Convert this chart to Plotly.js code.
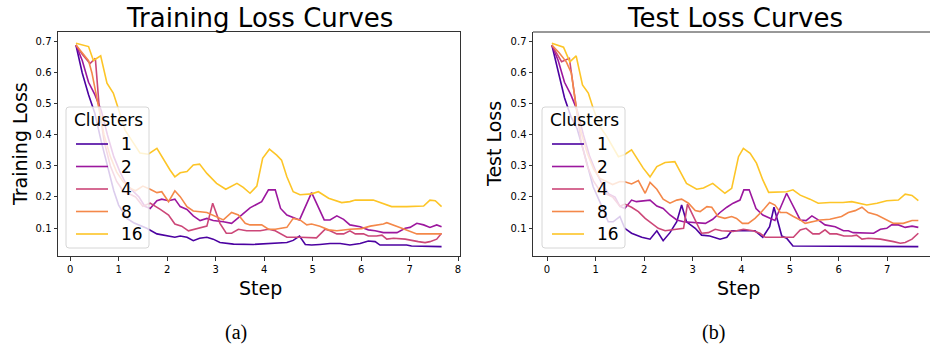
<!DOCTYPE html>
<html><head><meta charset="utf-8">
<script src="https://cdn.plot.ly/plotly-3.0.1.min.js"></script>
<style>html,body{margin:0;padding:0;background:#fff}#plot{width:930px;height:349px}</style>
</head><body><div id="plot"></div>
<script>
// ---- data ----
const clusterNames = ["1", "2", "4", "8", "16"];
const clusterColors = ["#4c02a1", "#9c179e", "#cc4778", "#f48849", "#fdc527"];
const xTicks = [0, 1, 2, 3, 4, 5, 6, 7, 8];
const yTicks = [0.1, 0.2, 0.3, 0.4, 0.5, 0.6, 0.7];

// Training loss
const train1X = [0.12,0.25,0.38,0.51,0.64,0.77,0.9,1.0,1.17,1.31,1.45,1.58,1.79,1.92,2.06,2.16,2.27,2.41,2.54,2.67,2.82,2.95,3.09,3.37,3.78,4.19,4.47,4.6,4.73,4.85,4.98,5.15,5.36,5.57,5.77,5.98,6.15,6.29,6.39,6.94,7.04,7.66];
const train1Y = [0.69,0.6,0.53,0.47,0.38,0.3,0.22,0.174,0.131,0.117,0.108,0.099,0.081,0.077,0.074,0.07,0.074,0.07,0.059,0.067,0.07,0.064,0.053,0.048,0.047,0.05,0.053,0.06,0.074,0.047,0.045,0.047,0.05,0.05,0.045,0.05,0.058,0.056,0.045,0.045,0.042,0.04];
const train2X = [0.12,0.25,0.38,0.51,0.64,0.77,0.9,1.03,1.16,1.29,1.42,1.54,1.65,1.79,1.89,2.03,2.16,2.27,2.41,2.54,2.68,2.82,2.95,3.16,3.33,3.54,3.71,3.95,4.09,4.23,4.34,4.47,4.6,4.73,4.98,5.1,5.24,5.36,5.5,5.64,5.77,5.98,6.15,6.29,6.46,6.74,6.91,7.01,7.15,7.29,7.42,7.56,7.66];
const train2Y = [0.69,0.64,0.57,0.53,0.48,0.4,0.33,0.28,0.24,0.22,0.2,0.17,0.163,0.188,0.193,0.188,0.193,0.169,0.16,0.139,0.124,0.131,0.124,0.12,0.115,0.142,0.165,0.185,0.223,0.223,0.163,0.142,0.133,0.126,0.214,0.174,0.126,0.126,0.139,0.128,0.11,0.104,0.094,0.091,0.085,0.085,0.099,0.102,0.115,0.11,0.102,0.11,0.104];
const train4X = [0.12,0.25,0.41,0.52,0.6,0.7,0.83,0.96,1.09,1.22,1.35,1.5,1.65,1.86,2.03,2.16,2.3,2.44,2.58,2.71,2.82,2.94,3.09,3.22,3.33,3.47,3.64,3.92,4.09,4.23,4.47,4.74,5.08,5.26,5.36,5.5,5.64,5.77,5.88,6.05,6.15,6.32,6.43,6.53,6.67,6.91,7.04,7.18,7.32,7.42,7.56,7.66];
const train4Y = [0.69,0.66,0.63,0.647,0.49,0.38,0.3,0.25,0.22,0.21,0.2,0.17,0.18,0.16,0.142,0.113,0.106,0.091,0.096,0.102,0.106,0.18,0.115,0.083,0.083,0.096,0.091,0.091,0.096,0.091,0.07,0.07,0.068,0.096,0.091,0.081,0.081,0.091,0.081,0.081,0.074,0.074,0.077,0.064,0.067,0.064,0.059,0.056,0.053,0.056,0.064,0.083];
const train8X = [0.12,0.27,0.38,0.45,0.58,0.7,0.83,0.96,1.09,1.22,1.35,1.5,1.65,1.79,1.89,2.03,2.16,2.27,2.41,2.54,2.82,2.99,3.16,3.33,3.47,3.61,3.71,3.95,4.09,4.23,4.47,4.6,4.74,4.88,4.98,5.15,5.33,5.5,5.77,6.01,6.19,6.46,6.53,6.8,6.98,7.15,7.66];
const train8Y = [0.69,0.663,0.64,0.6,0.49,0.4,0.33,0.28,0.25,0.23,0.22,0.235,0.225,0.214,0.217,0.185,0.22,0.201,0.169,0.155,0.15,0.139,0.126,0.15,0.142,0.115,0.11,0.11,0.096,0.096,0.102,0.131,0.126,0.11,0.113,0.106,0.094,0.091,0.096,0.098,0.106,0.113,0.117,0.102,0.091,0.081,0.081];
const train16X = [0.12,0.38,0.48,0.63,0.76,0.89,0.99,1.13,1.28,1.44,1.61,1.79,2.06,2.16,2.27,2.41,2.54,2.67,2.82,3.02,3.21,3.44,3.57,3.71,3.85,3.97,4.11,4.26,4.36,4.47,4.6,4.74,4.98,5.12,5.33,5.6,5.77,5.88,6.25,6.46,6.63,6.94,7.29,7.42,7.53,7.66];
const train16Y = [0.696,0.685,0.64,0.655,0.567,0.535,0.487,0.416,0.38,0.342,0.338,0.357,0.287,0.265,0.278,0.282,0.303,0.306,0.276,0.244,0.225,0.244,0.231,0.212,0.235,0.325,0.354,0.335,0.319,0.265,0.217,0.207,0.21,0.217,0.196,0.182,0.185,0.19,0.19,0.177,0.169,0.169,0.171,0.19,0.188,0.169];

// Test loss
const test1X = [0.1,0.23,0.36,0.49,0.62,0.75,0.95,1.13,1.26,1.36,1.5,1.6,1.74,1.95,2.12,2.26,2.39,2.53,2.67,2.77,2.87,3.05,3.18,3.35,3.56,3.7,3.8,4.28,4.44,4.58,4.67,4.83,4.93,5.06,5.6,6.2,6.8,7.3,7.64];
const test1Y = [0.69,0.6,0.52,0.46,0.42,0.35,0.233,0.169,0.12,0.12,0.137,0.099,0.083,0.07,0.064,0.091,0.059,0.085,0.12,0.174,0.12,0.099,0.077,0.074,0.064,0.07,0.091,0.091,0.07,0.104,0.167,0.074,0.067,0.042,0.042,0.041,0.041,0.04,0.04];
const test2X = [0.1,0.23,0.36,0.49,0.62,0.75,0.88,1.01,1.14,1.27,1.4,1.5,1.6,1.74,1.84,1.98,2.12,2.26,2.39,2.53,2.67,2.81,3.01,3.15,3.26,3.41,3.56,3.7,3.83,3.97,4.05,4.16,4.3,4.44,4.58,4.69,4.93,5.07,5.21,5.33,5.45,5.58,5.72,5.93,6.1,6.2,6.3,6.72,6.86,6.99,7.09,7.23,7.37,7.51,7.64];
const test2Y = [0.69,0.64,0.57,0.53,0.48,0.4,0.33,0.28,0.24,0.21,0.2,0.17,0.163,0.19,0.185,0.188,0.19,0.171,0.163,0.142,0.126,0.12,0.117,0.117,0.115,0.128,0.15,0.167,0.18,0.19,0.223,0.223,0.163,0.142,0.131,0.124,0.212,0.169,0.126,0.124,0.139,0.126,0.11,0.104,0.091,0.091,0.085,0.083,0.096,0.099,0.11,0.11,0.102,0.106,0.102];
const test4X = [0.1,0.3,0.46,0.6,0.7,0.83,0.96,1.09,1.22,1.35,1.5,1.6,1.74,1.88,2.02,2.15,2.29,2.43,2.57,2.7,2.81,2.89,3.18,3.32,3.46,3.59,3.83,4.04,4.24,4.38,4.49,4.69,4.93,5.07,5.21,5.33,5.47,5.6,5.72,5.82,5.96,6.11,6.27,6.37,6.48,6.61,6.86,6.99,7.13,7.27,7.37,7.51,7.64];
const test4Y = [0.69,0.636,0.647,0.49,0.38,0.3,0.25,0.22,0.21,0.2,0.17,0.177,0.167,0.153,0.131,0.115,0.099,0.091,0.094,0.096,0.099,0.177,0.083,0.085,0.096,0.091,0.089,0.096,0.091,0.083,0.07,0.07,0.07,0.07,0.094,0.099,0.081,0.081,0.094,0.081,0.081,0.074,0.074,0.077,0.064,0.067,0.064,0.059,0.056,0.051,0.053,0.064,0.083];
const test8X = [0.1,0.25,0.4,0.5,0.6,0.7,0.83,0.96,1.09,1.22,1.35,1.5,1.6,1.74,1.88,2.02,2.12,2.26,2.39,2.53,2.67,2.77,2.91,3.05,3.15,3.29,3.39,3.52,3.66,3.8,3.9,4.02,4.14,4.28,4.42,4.58,4.69,4.8,4.93,5.07,5.21,5.31,5.45,5.62,5.82,6.06,6.2,6.34,6.48,6.61,6.79,6.96,7.13,7.33,7.51,7.64];
const test8Y = [0.69,0.665,0.635,0.6,0.49,0.41,0.34,0.29,0.26,0.25,0.24,0.25,0.249,0.242,0.253,0.212,0.247,0.225,0.193,0.18,0.19,0.193,0.18,0.156,0.153,0.169,0.167,0.137,0.131,0.137,0.131,0.115,0.115,0.131,0.153,0.182,0.174,0.15,0.15,0.137,0.126,0.115,0.12,0.126,0.128,0.137,0.15,0.156,0.167,0.15,0.142,0.128,0.115,0.115,0.124,0.124];
const test16X = [0.1,0.34,0.47,0.6,0.73,0.85,0.95,1.09,1.23,1.47,1.6,1.74,1.98,2.12,2.26,2.43,2.63,2.87,3.08,3.22,3.41,3.66,3.8,3.94,4.04,4.18,4.31,4.44,4.56,4.77,4.93,5.06,5.21,5.41,5.58,5.82,6.09,6.27,6.58,6.79,6.99,7.23,7.37,7.51,7.64];
const test16Y = [0.696,0.683,0.636,0.655,0.561,0.535,0.486,0.427,0.395,0.33,0.337,0.352,0.293,0.265,0.298,0.311,0.314,0.244,0.225,0.229,0.244,0.212,0.228,0.33,0.357,0.341,0.309,0.255,0.215,0.215,0.217,0.223,0.206,0.193,0.18,0.182,0.182,0.185,0.174,0.18,0.188,0.19,0.209,0.205,0.188];

const trainSeries = [[train1X,train1Y],[train2X,train2Y],[train4X,train4Y],[train8X,train8Y],[train16X,train16Y]];
const testSeries = [[test1X,test1Y],[test2X,test2Y],[test4X,test4Y],[test8X,test8Y],[test16X,test16Y]];

// ---- build ----
const W = 930, H = 349;
const px = v => v / W, py = v => 1 - v / H;
const traces = [];
trainSeries.forEach((s, i) => traces.push({
  x: s[0], y: s[1], type: 'scatter', mode: 'lines', name: clusterNames[i], showlegend: false,
  line: {color: clusterColors[i], width: 1.6}, xaxis: 'x', yaxis: 'y'
}));
testSeries.forEach((s, i) => traces.push({
  x: s[0], y: s[1], type: 'scatter', mode: 'lines', name: clusterNames[i], showlegend: false,
  line: {color: clusterColors[i], width: 1.6}, xaxis: 'x2', yaxis: 'y2'
}));

const yTop = py(32), yBot = py(256);
const tickFont = {family: 'DejaVu Sans', size: 10, color: '#000'};
const axCommon = {
  showgrid: false, zeroline: false, showline: true, linecolor: '#333', linewidth: 1,
  ticks: 'outside', ticklen: 3.5, tickwidth: 1, tickcolor: '#333', tickfont: tickFont
};
const ann = (text, x, y, size, extra) => Object.assign({
  text: text, x: px(x), y: py(y), xref: 'paper', yref: 'paper', showarrow: false,
  xanchor: 'center', yanchor: 'middle',
  font: {family: 'DejaVu Sans', size: size, color: '#000'}
}, extra || {});

const shapes = [{type: 'line', xref: 'paper', yref: 'paper', x0: px(533), x1: 1, y0: yTop, y1: yTop, line: {color: '#333', width: 1}}];
const annotations = [
  ann('Training Loss Curves', 259, 18, 26),
  ann('Test Loss Curves', 735, 18, 26),
  ann('Training Loss', 20, 144, 19, {textangle: -90}),
  ann('Test Loss', 494, 144, 19, {textangle: -90}),
  ann('Step', 260, 288, 19),
  ann('Step', 738, 288, 19),
  ann('(a)', 236, 332, 20, {font: {family: 'Liberation Serif', size: 20, color: '#000'}}),
  ann('(b)', 713, 332, 20, {font: {family: 'Liberation Serif', size: 20, color: '#000'}})
];

// legend box (matplotlib-style, semi-transparent, rounded)
function addLegend(bx) {
  const x0 = bx, x1 = bx + 83, y0 = 107, y1 = 248, r = 3;
  const P = (x, y) => px(x) + ',' + py(y);
  const path = 'M' + P(x0 + r, y0) + ' L' + P(x1 - r, y0) + ' Q' + P(x1, y0) + ' ' + P(x1, y0 + r) +
    ' L' + P(x1, y1 - r) + ' Q' + P(x1, y1) + ' ' + P(x1 - r, y1) + ' L' + P(x0 + r, y1) +
    ' Q' + P(x0, y1) + ' ' + P(x0, y1 - r) + ' L' + P(x0, y0 + r) + ' Q' + P(x0, y0) + ' ' + P(x0 + r, y0) + ' Z';
  shapes.push({type: 'path', xref: 'paper', yref: 'paper', path: path, layer: 'above',
    fillcolor: 'rgba(255,255,255,0.8)', line: {color: '#d6d6d6', width: 1}});
  annotations.push(ann('Clusters', bx + 6, 120, 17, {xanchor: 'left'}));
  clusterNames.forEach((n, i) => {
    const yy = 144 + i * 22.5;
    shapes.push({type: 'line', xref: 'paper', yref: 'paper', layer: 'above',
      x0: px(bx + 10), x1: px(bx + 42), y0: py(yy), y1: py(yy),
      line: {color: clusterColors[i], width: 1.6}});
    annotations.push(ann(n, bx + 53, yy, 17, {xanchor: 'left'}));
  });
}
addLegend(66);
addLegend(542);

const layout = {
  width: W, height: H, margin: {l: 0, r: 0, t: 0, b: 0},
  paper_bgcolor: '#fff', plot_bgcolor: '#fff', showlegend: false,
  xaxis: Object.assign({}, axCommon, {domain: [px(58), px(460)], range: [-0.25, 8.04], tickvals: xTicks, mirror: true, anchor: 'y'}),
  yaxis: Object.assign({}, axCommon, {domain: [yBot, yTop], range: [0.0097, 0.732], tickvals: yTicks, tickformat: '.1f', mirror: true, anchor: 'x'}),
  xaxis2: Object.assign({}, axCommon, {domain: [px(533), 1], range: [-0.288, 7.88], tickvals: xTicks, anchor: 'y2'}),
  yaxis2: Object.assign({}, axCommon, {domain: [yBot, yTop], range: [0.0097, 0.732], tickvals: yTicks, tickformat: '.1f', anchor: 'x2'}),
  shapes: shapes,
  annotations: annotations
};
Plotly.newPlot('plot', traces, layout, {staticPlot: true, displayModeBar: false});
</script></body></html>
